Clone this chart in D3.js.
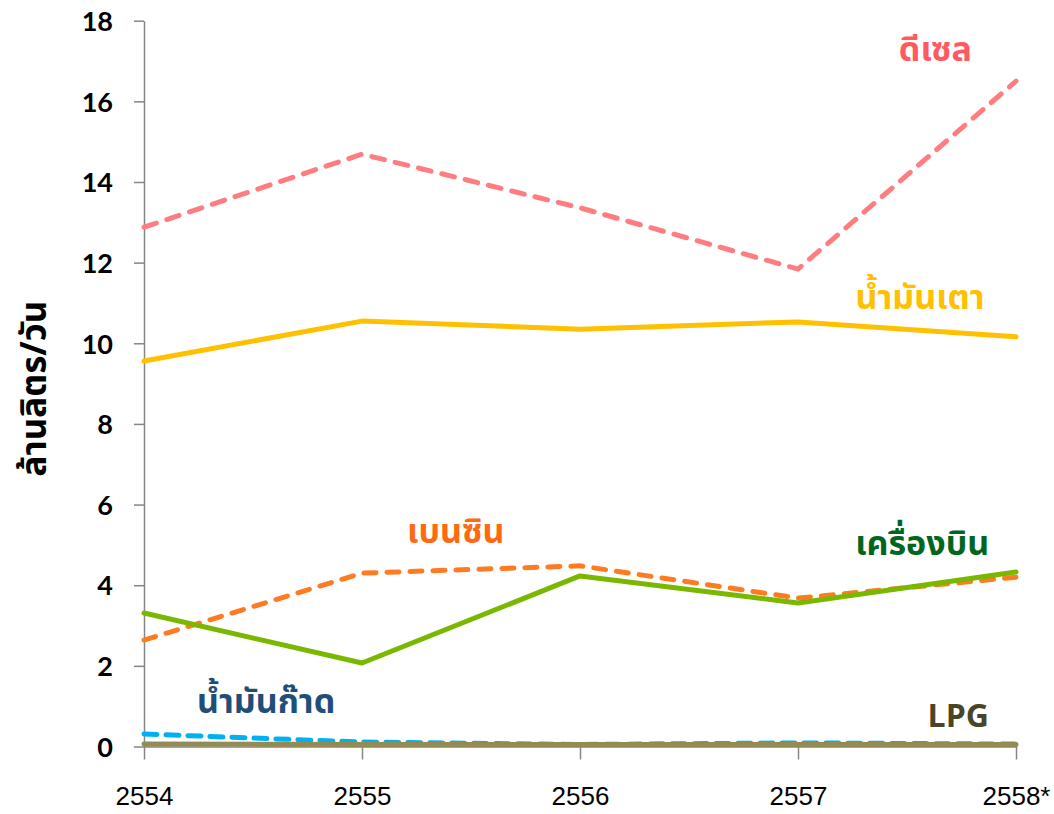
<!DOCTYPE html>
<html>
<head>
<meta charset="utf-8">
<script src="https://cdn.jsdelivr.net/npm/d3@7"></script>
<style>
  body { margin: 0; background: #fff; }
  .axis path, .axis line { stroke: #868686; stroke-width: 1.5; }
  .y-axis text { font-family: Lato, "Open Sans", sans-serif; font-weight: bold; font-size: 27px; fill: #000; }
  .x-axis text { font-family: "Liberation Sans", Arial, sans-serif; font-size: 26px; fill: #000; }
  .lbl { font-family: Tahoma, "Noto Sans Thai", "DejaVu Sans", sans-serif; font-weight: bold; font-size: 34px; }
</style>
</head>
<body>
<div id="chart"></div>
<script>
// years (Buddhist era), last one is preliminary
const years = ['2554', '2555', '2556', '2557', '2558*'];
const yTicks = [0, 2, 4, 6, 8, 10, 12, 14, 16, 18];

// million litres per day
const diesel   = [12.88, 14.69, 13.36, 11.84, 16.50];
const fuelOil  = [9.56, 10.55, 10.35, 10.53, 10.16];
const benzine  = [2.64, 4.30, 4.48, 3.68, 4.20];
const jetFuel  = [3.31, 2.07, 4.23, 3.56, 4.33];
const kerosene = [0.31, 0.11, 0.05, 0.09, 0.06];
const lpg      = [0.06, 0.05, 0.05, 0.05, 0.05];

const width = 1054, height = 814;
const margin = { top: 20.7, right: 38, bottom: 67.5, left: 144 };

const svg = d3.select('#chart').append('svg')
  .attr('width', width)
  .attr('height', height);

const x = d3.scalePoint().domain(years).range([margin.left, width - margin.right]);
const y = d3.scaleLinear().domain([0, 18]).range([height - margin.bottom, margin.top]);

// y axis
svg.append('g')
  .attr('class', 'axis y-axis')
  .attr('transform', `translate(${margin.left},0)`)
  .call(d3.axisLeft(y).tickValues(yTicks).tickSize(10).tickSizeOuter(0).tickPadding(21))
  .call(g => g.selectAll('text').attr('dy', '0.36em'));

// x axis
svg.append('g')
  .attr('class', 'axis x-axis')
  .attr('transform', `translate(0,${y(0)})`)
  .call(d3.axisBottom(x).tickSize(13).tickSizeOuter(0).tickPadding(27));

// y title
svg.append('text')
  .attr('class', 'lbl')
  .attr('transform', `translate(46, ${(margin.top + y(0)) / 2 + 5}) rotate(-90)`)
  .attr('text-anchor', 'middle')
  .style('font-size', '35px')
  .attr('fill', '#000')
  .text('ล้านลิตร/วัน');

const line = d3.line()
  .x((d, i) => x(years[i]))
  .y(d => y(d));

const series = [
  { values: diesel,   color: '#FF7C80', dash: '13,11' },
  { values: benzine,  color: '#FF7B22', dash: '12,11' },
  { values: kerosene, color: '#00B0F0', dash: '13,9' },
  { values: fuelOil,  color: '#FFC000', dash: null },
  { values: jetFuel,  color: '#7AB800', dash: null },
  { values: lpg,      color: '#948A54', dash: null }
];

svg.append('g').selectAll('path')
  .data(series)
  .join('path')
  .attr('d', d => line(d.values))
  .attr('fill', 'none')
  .attr('stroke', d => d.color)
  .attr('stroke-width', 5)
  .attr('stroke-linecap', 'round')
  .attr('stroke-linejoin', 'round')
  .attr('stroke-dasharray', d => d.dash);

// series labels, anchored in data space
const labels = [
  { text: 'ดีเซล',      color: '#FF5A5F', xi: 3.63, v: 17.0, size: 34 },
  { text: 'น้ำมันเตา',   color: '#FFC000', xi: 3.56, v: 10.85, size: 34 },
  { text: 'เบนซิน',     color: '#FF6A10', xi: 1.43, v: 5.05, size: 34 },
  { text: 'เครื่องบิน',  color: '#00661F', xi: 3.57, v: 4.75, size: 34 },
  { text: 'น้ำมันก๊าด',  color: '#1F4E79', xi: 0.56, v: 0.83, size: 34 },
  { text: 'LPG',       color: '#4A4526', xi: 3.735, v: 0.48, size: 32 }
];
const step = x.step();
svg.append('g').selectAll('text')
  .data(labels)
  .join('text')
  .attr('class', 'lbl')
  .attr('x', d => margin.left + d.xi * step)
  .attr('y', d => y(d.v))
  .attr('text-anchor', 'middle')
  .style('font-size', d => d.size + 'px')
  .attr('fill', d => d.color)
  .text(d => d.text);
</script>
</body>
</html>
